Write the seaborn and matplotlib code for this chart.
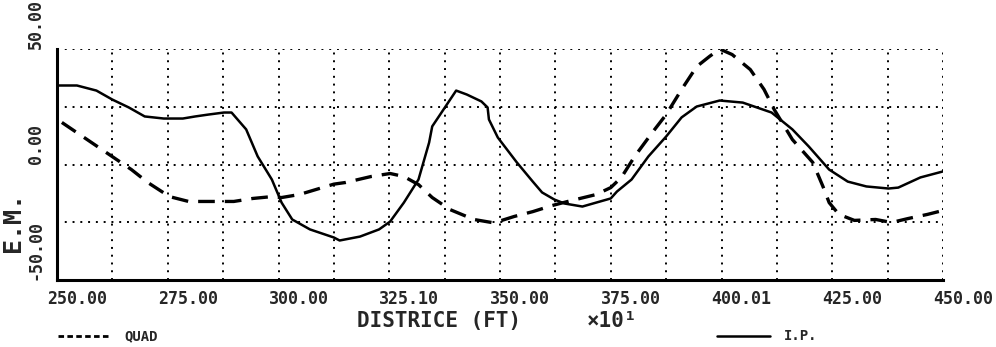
import numpy as np
import pandas as pd
import matplotlib
matplotlib.use("Agg")
import matplotlib.pyplot as plt
import matplotlib.transforms as mtransforms
from matplotlib.lines import Line2D
import seaborn as sns

# ---- data ----
ip_x = [250.0, 254.5, 258.9, 262.5, 266.2, 269.8, 274.1, 278.4, 281.2, 284.1, 287.7, 289.4,
        292.7, 295.3, 298.5, 300.7, 303.1, 307.1, 312.5, 313.8, 318.4, 322.7, 325.2, 328.3,
        331.6, 334.0, 334.7, 337.7, 340.1, 342.5, 345.8, 347.2, 347.5, 349.5, 353.8, 357.4,
        359.5, 362.3, 364.6, 368.6, 371.7, 375.0, 376.4, 379.7, 383.5, 387.5, 391.0, 394.4,
        399.6, 404.8, 411.3, 416.0, 419.7, 424.3, 428.5, 432.7, 437.7, 439.9, 444.9, 450.0]
ip_y = [34.2, 34.2, 32.0, 28.1, 24.7, 20.8, 19.9, 19.9, 20.8, 21.6, 22.5, 22.5,
        15.2, 3.5, -6.5, -16.5, -23.8, -28.1, -31.6, -32.9, -31.2, -28.1, -24.7, -16.5,
        -6.5, 9.5, 16.5, 25.1, 32.0, 30.3, 27.3, 24.7, 19.5, 11.7, 0.9, -7.4,
        -12.1, -15.2, -16.9, -18.2, -16.5, -14.7, -11.7, -6.5, 3.5, 12.1, 20.4, 25.1,
        27.7, 26.8, 22.5, 15.2, 7.8, -2.2, -7.4, -9.5, -10.4, -10.0, -5.6, -3.0]

quad_x = [251.1, 255.8, 261.8, 266.8, 270.5, 275.4, 279.7, 284.1, 289.9, 294.2, 298.5, 300.7,
          304.7, 312.5, 315.1, 320.9, 325.2, 328.3, 331.6, 334.7, 338.7, 344.1, 348.1, 350.4,
          353.2, 357.4, 361.7, 365.3, 371.7, 375.0, 377.4, 380.4, 384.4, 387.5, 391.0, 394.4,
          397.3, 399.6, 402.4, 406.5, 409.6, 411.9, 416.0, 420.6, 422.9, 424.3, 426.5, 430.0,
          434.8, 438.4, 442.1, 446.5, 450.0]
quad_y = [18.2, 12.1, 4.3, -2.2, -7.8, -13.9, -16.0, -16.0, -16.0, -14.7, -13.9, -14.3,
          -13.0, -8.5, -7.8, -5.2, -3.9, -5.2, -8.7, -14.3, -19.5, -23.8, -25.1, -24.2,
          -22.5, -20.4, -17.8, -16.0, -13.0, -10.0, -5.6, 3.5, 13.9, 21.6, 32.5, 42.4,
          46.8, 50.0, 47.6, 41.1, 32.5, 23.8, 10.8, 0.9, -9.5, -16.5, -21.6, -24.2,
          -23.8, -25.1, -23.4, -21.6, -19.9]

x_ticks = [250, 275, 300, 325, 350, 375, 400, 425, 450]
x_tick_labels = ["250.00", "275.00", "300.00", "325.10", "350.00", "375.00", "400.01", "425.00", "450.00"]
y_ticks = [-50, -25, 0, 25, 50]
y_tick_labels = ["-50.00", "", "0.00", "", "50.00"]

ip_df = pd.DataFrame({"x": ip_x, "y": ip_y})
quad_df = pd.DataFrame({"x": quad_x, "y": quad_y})

sns.set_style("white")
mono = ["DejaVu Sans Mono", "DejaVu Sans"]
plt.rcParams["font.family"] = mono
plt.rcParams["font.weight"] = "bold"

fig = plt.figure(figsize=(9.96, 3.47), dpi=100)
ax = fig.add_axes([57 / 996, 1 - 280 / 347, (943 - 57) / 996, (280 - 49) / 347])

sns.lineplot(data=ip_df, x="x", y="y", ax=ax, color="black", linewidth=1.8, sort=False)
sns.lineplot(data=quad_df, x="x", y="y", ax=ax, color="black", linewidth=2.4,
             linestyle=(0, (5, 3)), sort=False)

ax.set_xlim(250, 450)
ax.set_ylim(-50, 50)
ax.set_xticks(x_ticks)
ax.set_xticks(np.arange(250, 451, 12.5), minor=True)
ax.set_xticklabels(x_tick_labels, fontsize=12, fontweight="bold")
ax.set_yticks(y_ticks)
ax.set_yticklabels(y_tick_labels, fontsize=12, fontweight="bold", rotation=90, va="bottom")
ax.set_xlabel("")
ax.set_ylabel("")

ax.grid(True, which="both", axis="x", color="black", linestyle=(0, (1, 3)), linewidth=1.4)
ax.grid(True, which="major", axis="y", color="black", linestyle=(0, (1, 3)), linewidth=1.4)
ax.tick_params(axis="x", which="major", direction="inout", length=7, width=1.5, pad=4, color="black")
ax.tick_params(axis="x", which="minor", length=0)
ax.tick_params(axis="y", which="major", direction="inout", length=6, width=1.5, pad=6, color="black")

for s in ["top", "right"]:
    ax.spines[s].set_visible(False)
for s in ["left", "bottom"]:
    ax.spines[s].set_linewidth(2.2)
    ax.spines[s].set_color("black")

# shift x tick labels right like the plotter output
offset = mtransforms.ScaledTranslation(20 / 100, 0, fig.dpi_scale_trans)
for lab in ax.xaxis.get_majorticklabels():
    lab.set_transform(lab.get_transform() + offset)

# axis titles
fig.text(439 / 996, 1 - 321 / 347, "DISTRICE (FT)", ha="center", va="center",
         fontsize=15, family=mono)
fig.text(612 / 996, 1 - 321 / 347, "×10¹", ha="center", va="center", fontsize=15, family=mono)
fig.text(13 / 996, 1 - 222 / 347, "E.M.", ha="center", va="center", rotation=90,
         fontsize=18, fontweight="bold", family=mono)

# legend
ly = 1 - 336 / 347
fig.add_artist(Line2D([58 / 996, 110 / 996], [ly, ly], color="black", linewidth=2.0,
                      linestyle=(0, (2.0, 1.2)), transform=fig.transFigure))
fig.text(124 / 996, ly, "QUAD", ha="left", va="center", fontsize=10, family=mono)
fig.add_artist(Line2D([717 / 996, 770 / 996], [ly, ly], color="black", linewidth=1.8,
                      transform=fig.transFigure))
fig.text(784 / 996, ly, "I.P.", ha="left", va="center", fontsize=10, family=mono)

fig.savefig("out.png", dpi=100)
